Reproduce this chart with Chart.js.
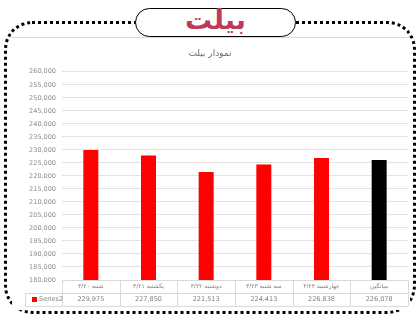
<!DOCTYPE html>
<html>
<head>
<meta charset="utf-8">
<script src="https://cdn.jsdelivr.net/npm/chart.js@4"></script>
<style>
  body { margin: 0; width: 420px; height: 319px; background: #fff; overflow: hidden; position: relative; font-family: "DejaVu Sans", sans-serif; }
  .frame { position: absolute; left: 4px; top: 21px; width: 406px; height: 287px; border: 3px dotted #000; border-radius: 28px; }
  .inner { position: absolute; left: 12px; top: 37px; width: 398px; height: 272px; border-top: 1px solid #d9d9d9; background: #fff; }
  .pill { position: absolute; left: 135px; top: 8px; width: 159px; height: 27px; border: 1.5px solid #000; border-radius: 15px; background: #fff; text-align: center; color: #c0395a; font-weight: bold; font-size: 27px; line-height: 22px; }
  canvas { position: absolute; left: 12px; top: 38px; }
</style>
</head>
<body>
<div class="frame"></div>
<div class="inner"></div>
<div class="pill" dir="rtl">بیلت</div>
<canvas id="myChart" width="398" height="272"></canvas>
<script>
const categories = ['شنبه ۳/۲۰', 'یکشنبه ۳/۲۱', 'دوشنبه ۳/۲۲', 'سه شنبه ۳/۲۳', 'چهارشنبه ۳/۲۴', 'میانگین'];
const values = [229975, 227850, 221513, 224413, 226838, 226078];
const barColors = ['#ff0000', '#ff0000', '#ff0000', '#ff0000', '#ff0000', '#000000'];
const seriesName = 'Series2';
const chartTitle = 'نمودار بیلت';

// draws the excel-like data table under the plot
const dataTable = {
	id: 'dataTable',
	afterDraw(chart) {
		const ctx = chart.ctx;
		const area = chart.chartArea;
		const x = chart.scales.x;
		const row1 = area.bottom + 13;
		const row2 = area.bottom + 26;
		const tableLeft = 13;
		ctx.save();
		ctx.strokeStyle = '#d9d9d9';
		ctx.lineWidth = 1;
		ctx.beginPath();
		ctx.moveTo(area.left, area.bottom + 0.5);
		ctx.lineTo(area.right, area.bottom + 0.5);
		ctx.moveTo(tableLeft, row1 + 0.5);
		ctx.lineTo(area.right, row1 + 0.5);
		ctx.moveTo(tableLeft, row2 + 0.5);
		ctx.lineTo(area.right, row2 + 0.5);
		ctx.moveTo(tableLeft + 0.5, row1);
		ctx.lineTo(tableLeft + 0.5, row2);
		const step = (area.right - area.left) / categories.length;
		for (let i = 0; i <= categories.length; i++) {
			const px = Math.round(area.left + i * step) + 0.5;
			ctx.moveTo(px, area.bottom);
			ctx.lineTo(px, row2);
		}
		ctx.stroke();

		ctx.fillStyle = '#7f7f7f';
		ctx.textAlign = 'center';
		ctx.textBaseline = 'middle';
		for (let i = 0; i < categories.length; i++) {
			const cx = x.getPixelForValue(i);
			ctx.font = '6px "DejaVu Sans"';
			ctx.direction = 'rtl';
			ctx.fillText(categories[i], cx, area.bottom + 6.5);
			ctx.direction = 'ltr';
			ctx.font = '6.5px "DejaVu Sans"';
			ctx.fillText(values[i].toLocaleString('en-US'), cx, row1 + 6.5);
		}
		ctx.fillStyle = '#ff0000';
		ctx.fillRect(tableLeft + 7, row1 + 4, 5, 5);
		ctx.fillStyle = '#7f7f7f';
		ctx.textAlign = 'left';
		ctx.font = '6.5px "DejaVu Sans"';
		ctx.fillText(seriesName, tableLeft + 14, row1 + 6.5);
		ctx.restore();
	}
};

const ctx = document.getElementById('myChart').getContext('2d');
const myChart = new Chart(ctx, {
	type: 'bar',
	data: {
		labels: categories,
		datasets: [{
			label: seriesName,
			data: values,
			backgroundColor: barColors,
			categoryPercentage: 0.26,
			barPercentage: 1
		}]
	},
	options: {
		responsive: false,
		animation: false,
		layout: { padding: { left: 0, right: 2, top: 0, bottom: 30 } },
		plugins: {
			legend: { display: false },
			tooltip: { enabled: false },
			title: {
				display: true,
				text: chartTitle,
				color: '#6b6b6b',
				font: { family: 'DejaVu Sans', size: 9, weight: 'normal' },
				padding: { top: 10, bottom: 13 }
			}
		},
		scales: {
			x: {
				display: false
			},
			y: {
				min: 180000,
				max: 260000,
				afterFit(scale) { scale.width = 50; },
				ticks: {
					stepSize: 5000,
					color: '#8c8c8c',
					font: { family: 'DejaVu Sans', size: 6.5 },
					padding: 6,
					callback: (v) => v.toLocaleString('en-US')
				},
				grid: { color: '#e3e3e3', drawTicks: false },
				border: { display: false }
			}
		}
	},
	plugins: [dataTable]
});
</script>
</body>
</html>
